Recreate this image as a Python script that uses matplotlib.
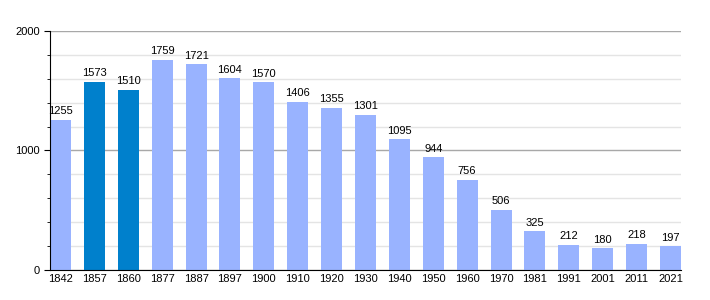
import numpy as np
import matplotlib.pyplot as plt

plt.rcParams["font.family"] = ["Liberation Sans", "DejaVu Sans"]

years = ["1842", "1857", "1860", "1877", "1887", "1897", "1900", "1910", "1920",
         "1930", "1940", "1950", "1960", "1970", "1981", "1991", "2001", "2011", "2021"]
population = [1255, 1573, 1510, 1759, 1721, 1604, 1570, 1406, 1355,
              1301, 1095, 944, 756, 506, 325, 212, 180, 218, 197]
highlight = ["1857", "1860"]

light = "#99b3ff"
dark = "#0080cc"

fig = plt.figure(figsize=(7.1, 3.0), dpi=100)
ax = fig.add_axes([0.0704, 0.1, 0.8887, 0.7967])

x = np.arange(len(years))
colors = [dark if y in highlight else light for y in years]
ax.bar(x, population, width=0.62, color=colors, zorder=3)

for xi, v in zip(x, population):
    ax.text(xi, v + 30, str(v), ha="center", va="bottom", fontsize=8, zorder=4)

ax.set_xlim(-0.31, 18.31)
ax.set_ylim(0, 2000)
ax.set_xticks(x)
ax.set_xticklabels(years, fontsize=8)
ax.tick_params(axis="x", length=0, pad=3)
ax.set_yticks([0, 1000, 2000])
ax.set_yticks(np.arange(0, 2001, 200), minor=True)
ax.tick_params(axis="y", which="major", labelsize=8, length=4, direction="out")
ax.tick_params(axis="y", which="minor", length=2, direction="out")
ax.grid(axis="y", which="major", color="#a8a8a8", linewidth=1, zorder=1)
ax.grid(axis="y", which="minor", color="#e4e4e4", linewidth=1, zorder=0)

for s in ["top", "right"]:
    ax.spines[s].set_visible(False)
ax.spines["left"].set_zorder(5)
ax.spines["bottom"].set_zorder(5)

fig.savefig("out.png", dpi=100)
